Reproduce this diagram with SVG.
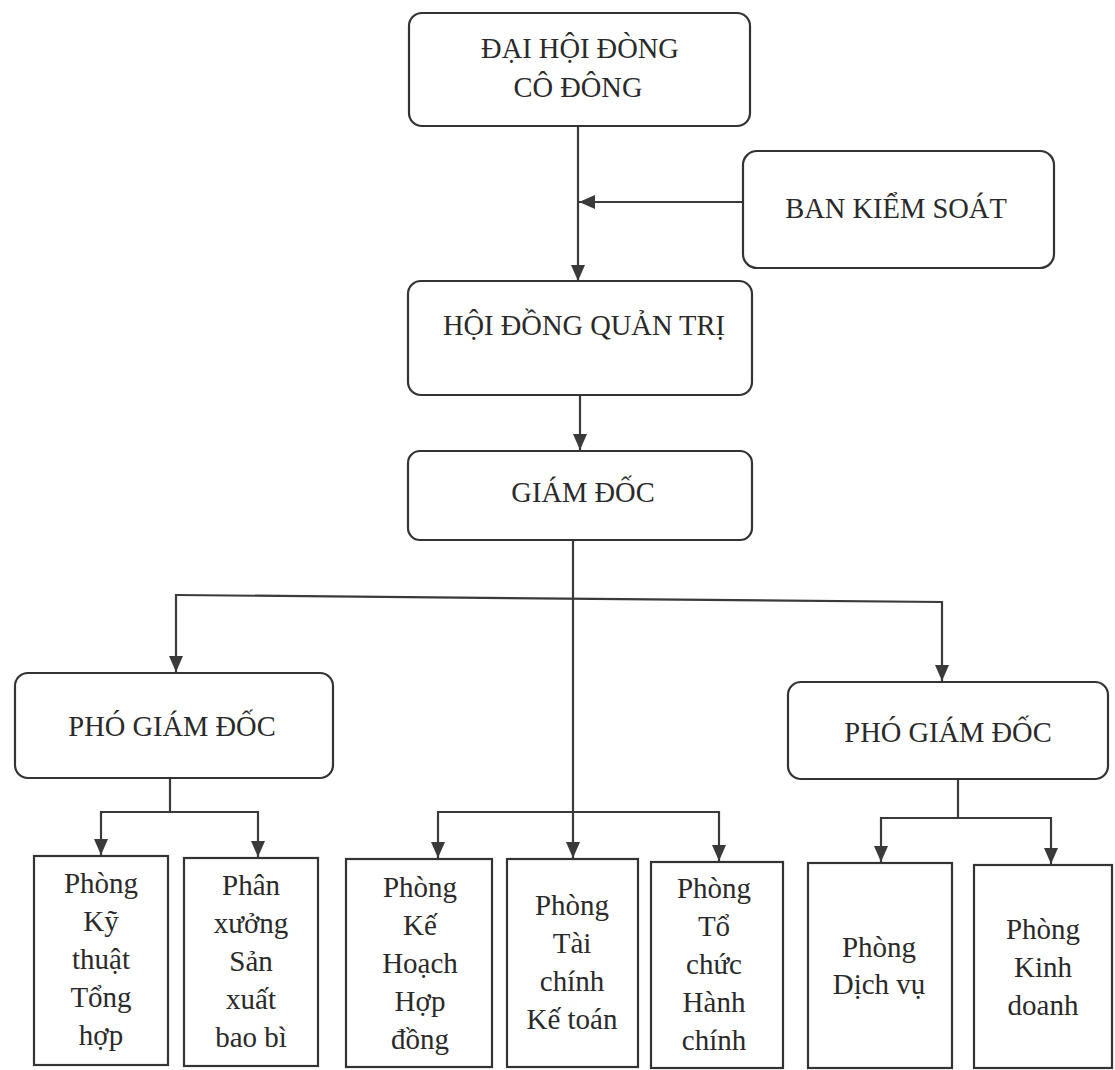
<svg xmlns="http://www.w3.org/2000/svg" width="1115" height="1070" viewBox="0 0 1115 1070">
<defs>
<style>
.box{fill:#fff;stroke:#333;stroke-width:2.2}
.t{font-size:28.5px;fill:#2a2a2a;text-anchor:middle}
.s{font-size:29px;fill:#2a2a2a;text-anchor:middle}
.c{fill:none;stroke:#3a3a3a;stroke-width:2.2}
</style>
<marker id="a" viewBox="0 0 16 14" refX="16" refY="7" markerWidth="16" markerHeight="14" markerUnits="userSpaceOnUse" orient="auto">
<path d="M0,0 L16,7 L0,14 z" fill="#3a3a3a"/>
</marker>
</defs>
<rect width="1115" height="1070" fill="#fff"/>

<g id="connectors">
<path class="c" d="M578,126 V281" marker-end="url(#a)"/>
<path class="c" d="M743,202 H579" marker-end="url(#a)"/>
<path class="c" d="M580,395 V450" marker-end="url(#a)"/>
<path class="c" d="M573,540 V858" marker-end="url(#a)"/>
<path class="c" d="M176,595 L942,602"/>
<path class="c" d="M176,594 V672" marker-end="url(#a)"/>
<path class="c" d="M942,601 V681" marker-end="url(#a)"/>
<path class="c" d="M170,778 V812"/>
<path class="c" d="M101,812 H258"/>
<path class="c" d="M101,811 V855" marker-end="url(#a)"/>
<path class="c" d="M258,811 V857" marker-end="url(#a)"/>
<path class="c" d="M438,812 H719"/>
<path class="c" d="M438,811 V858" marker-end="url(#a)"/>
<path class="c" d="M719,811 V861" marker-end="url(#a)"/>
<path class="c" d="M958,779 V818"/>
<path class="c" d="M881,818 H1051"/>
<path class="c" d="M881,817 V862" marker-end="url(#a)"/>
<path class="c" d="M1051,817 V864" marker-end="url(#a)"/>
</g>

<g font-family="Liberation Serif, Times New Roman, DejaVu Serif, serif">
<g id="dhdcd">
<rect class="box" x="409" y="13" width="341" height="113" rx="13"/>
<text class="t" x="580" y="58">ĐẠI HỘI ĐÒNG</text>
<text class="t" x="578" y="97">CÔ ĐÔNG</text>
</g>

<g id="bks">
<rect class="box" x="743" y="151" width="311" height="117" rx="14"/>
<text class="t" x="896" y="218">BAN KIỂM SOÁT</text>
</g>

<g id="hdqt">
<rect class="box" x="408" y="281" width="344" height="114" rx="13"/>
<text class="t" x="584" y="335">HỘI ĐỒNG QUẢN TRỊ</text>
</g>

<g id="gd">
<rect class="box" x="408" y="451" width="344" height="89" rx="12"/>
<text class="t" x="583" y="502">GIÁM ĐỐC</text>
</g>

<g id="pgd1">
<rect class="box" x="15" y="673" width="318" height="105" rx="13"/>
<text class="t" x="172" y="736">PHÓ GIÁM ĐỐC</text>
</g>

<g id="pgd2">
<rect class="box" x="788" y="682" width="320" height="97" rx="13"/>
<text class="t" x="948" y="742">PHÓ GIÁM ĐỐC</text>
</g>

<g id="p-kythuat">
<rect class="box" x="34" y="856" width="134" height="209"/>
<text class="s" x="101" y="893">Phòng</text>
<text class="s" x="101" y="931">Kỹ</text>
<text class="s" x="101" y="969">thuật</text>
<text class="s" x="101" y="1007">Tổng</text>
<text class="s" x="101" y="1045">hợp</text>
</g>

<g id="p-phanxuong">
<rect class="box" x="184" y="858" width="134" height="208"/>
<text class="s" x="251" y="895">Phân</text>
<text class="s" x="251" y="933">xưởng</text>
<text class="s" x="251" y="971">Sản</text>
<text class="s" x="251" y="1009">xuất</text>
<text class="s" x="251" y="1047">bao bì</text>
</g>

<g id="p-kehoach">
<rect class="box" x="346" y="859" width="146" height="208"/>
<text class="s" x="420" y="897">Phòng</text>
<text class="s" x="420" y="935">Kế</text>
<text class="s" x="420" y="973">Hoạch</text>
<text class="s" x="420" y="1011">Hợp</text>
<text class="s" x="420" y="1049">đồng</text>
</g>

<g id="p-taichinh">
<rect class="box" x="507" y="859" width="131" height="208"/>
<text class="s" x="572" y="915">Phòng</text>
<text class="s" x="572" y="953">Tài</text>
<text class="s" x="572" y="991">chính</text>
<text class="s" x="572" y="1029">Kế toán</text>
</g>

<g id="p-tochuc">
<rect class="box" x="651" y="862" width="132" height="206"/>
<text class="s" x="714" y="898">Phòng</text>
<text class="s" x="714" y="936">Tổ</text>
<text class="s" x="714" y="974">chức</text>
<text class="s" x="714" y="1012">Hành</text>
<text class="s" x="714" y="1050">chính</text>
</g>

<g id="p-dichvu">
<rect class="box" x="808" y="863" width="144" height="205"/>
<text class="s" x="879" y="957">Phòng</text>
<text class="s" x="879" y="994">Dịch vụ</text>
</g>

<g id="p-kinhdoanh">
<rect class="box" x="974" y="865" width="138" height="203"/>
<text class="s" x="1043" y="939">Phòng</text>
<text class="s" x="1043" y="977">Kinh</text>
<text class="s" x="1043" y="1015">doanh</text>
</g>
</g>
</svg>
